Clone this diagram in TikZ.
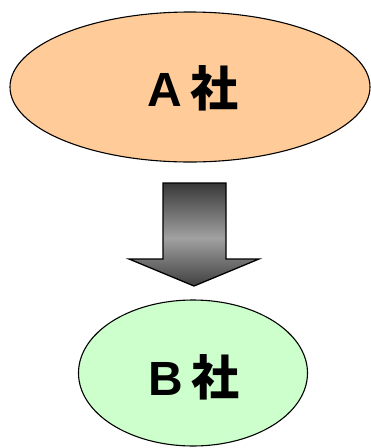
\documentclass[tikz,border=0pt]{standalone}
\usepackage{fontspec}
\usepackage{xcolor}
\usetikzlibrary{positioning, shapes.geometric}
\setmainfont{Liberation Sans}
\newfontfamily\cjk{Noto Sans CJK JP}
\definecolor{peach}{HTML}{FFCC99}
\definecolor{mint}{HTML}{CCFFCC}
\newcommand{\firm}[1]{\fontsize{48}{50}\selectfont\bfseries #1\,{\cjk\bfseries 社}}
\newcommand{\arrowpath}{(163,183) -- (226,183) -- (226,259) -- (259,259) -- (tip) -- (129,259) -- (163,259) -- cycle}

\begin{document}
\begin{tikzpicture}[
  x=1pt, y=-1pt,
  company/.style={draw, ellipse, line width=1.1pt, inner sep=0pt},
  blockarrow/.style={line width=1.3pt, line join=miter}
]
  \useasboundingbox (0,0) rectangle (371,448);
  \node[company, fill=peach, minimum width=360pt, minimum height=150pt] (firmA) at (190,87) {};
  \node[company, fill=mint, minimum width=229pt, minimum height=146pt] (firmB) at (193,373) {};
  \node at (193,88) {\firm{A}};
  \node at (194,377) {\firm{B}};

  % block arrow from A to B, grey strips for the gradient
  \coordinate (tip) at (194,286);
  \begin{scope}
    \clip \arrowpath;
    \foreach \y in {183,...,286} {
      \pgfmathsetmacro\g{\y<238 ? 78-41*(\y-183)/55 : 37+38*(\y-238)/48}
      \fill[black!\g] (129,\y) rectangle (259,\y+1.3);
    }
  \end{scope}
  \draw[blockarrow] \arrowpath;
\end{tikzpicture}
\end{document}
